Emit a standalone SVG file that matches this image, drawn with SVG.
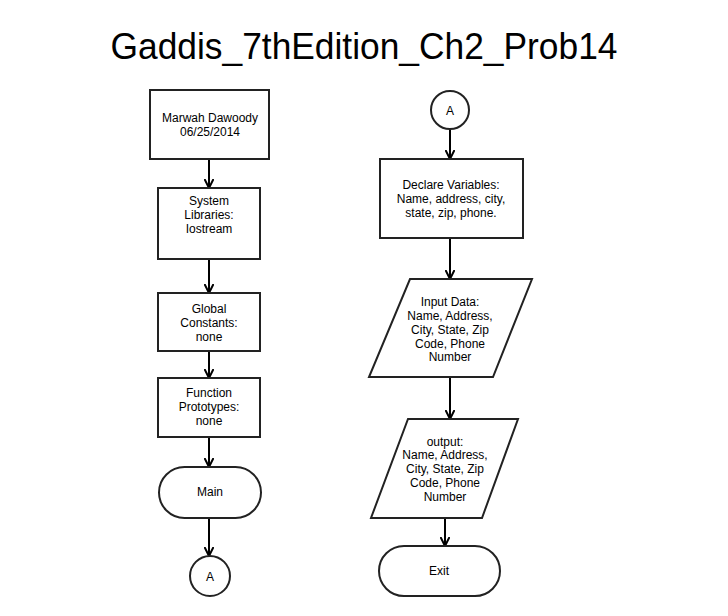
<svg xmlns="http://www.w3.org/2000/svg" width="728" height="616" viewBox="0 0 728 616">
  <style>
    .shape { fill: #ffffff; stroke: #222222; stroke-width: 2; }
    .lbl { font-family: "Liberation Sans", Arial, sans-serif; font-size: 12px; fill: #000000; text-anchor: middle; }
    .title { font-family: "Liberation Sans", Arial, sans-serif; font-size: 36px; fill: #000000; text-anchor: middle; }
    .conn { stroke: #000000; stroke-width: 2; fill: none; marker-end: url(#arrow); }
  </style>
  <defs>
    <marker id="arrow" viewBox="0 0 10 10" refX="9" refY="5" markerWidth="10" markerHeight="10" markerUnits="userSpaceOnUse" orient="auto">
      <path d="M0,0.5 L9,5 L0,9.5" fill="none" stroke="#000000" stroke-width="2"/>
    </marker>
  </defs>
  <rect width="728" height="616" fill="#ffffff"/>
  <text class="title" x="364" y="59" textLength="507" lengthAdjust="spacingAndGlyphs">Gaddis_7thEdition_Ch2_Prob14</text>

  <g id="connectors">
    <line class="conn" x1="209" y1="159" x2="209" y2="188"/>
    <line class="conn" x1="209" y1="259" x2="209" y2="293"/>
    <line class="conn" x1="209" y1="351" x2="209" y2="378"/>
    <line class="conn" x1="209" y1="437" x2="209" y2="467"/>
    <line class="conn" x1="209" y1="518" x2="209" y2="556"/>
    <line class="conn" x1="450" y1="129" x2="450" y2="159"/>
    <line class="conn" x1="450" y1="238" x2="450" y2="279"/>
    <line class="conn" x1="450" y1="377" x2="450" y2="419"/>
    <line class="conn" x1="445" y1="518" x2="445" y2="546"/>
  </g>

  <g id="author">
    <rect class="shape" x="150" y="90" width="119" height="69"/>
    <text class="lbl" x="210" y="122">Marwah Dawoody</text>
    <text class="lbl" x="210" y="136">06/25/2014</text>
  </g>
  <g id="libraries">
    <rect class="shape" x="158" y="188" width="102" height="71"/>
    <text class="lbl" x="209" y="205">System</text>
    <text class="lbl" x="209" y="219">Libraries:</text>
    <text class="lbl" x="209" y="233">Iostream</text>
  </g>
  <g id="constants">
    <rect class="shape" x="158" y="293" width="102" height="58"/>
    <text class="lbl" x="209" y="313">Global</text>
    <text class="lbl" x="209" y="327">Constants:</text>
    <text class="lbl" x="209" y="341">none</text>
  </g>
  <g id="prototypes">
    <rect class="shape" x="158" y="378" width="102" height="59"/>
    <text class="lbl" x="209" y="397">Function</text>
    <text class="lbl" x="209" y="411">Prototypes:</text>
    <text class="lbl" x="209" y="425">none</text>
  </g>
  <g id="main">
    <rect class="shape" x="159" y="467" width="102" height="51" rx="25.5" ry="25.5"/>
    <text class="lbl" x="210" y="496">Main</text>
  </g>
  <g id="connector-a-out">
    <circle class="shape" cx="210" cy="576" r="20"/>
    <text class="lbl" x="210" y="581">A</text>
  </g>

  <g id="connector-a-in">
    <circle class="shape" cx="450" cy="110" r="19"/>
    <text class="lbl" x="450" y="115">A</text>
  </g>
  <g id="declare">
    <rect class="shape" x="380" y="159" width="143" height="79"/>
    <text class="lbl" x="451" y="189">Declare Variables:</text>
    <text class="lbl" x="451" y="203">Name, address, city,</text>
    <text class="lbl" x="451" y="217">state, zip, phone.</text>
  </g>
  <g id="input">
    <polygon class="shape" points="410,279 532,279 493,377 369,377"/>
    <text class="lbl" x="450" y="306">Input Data:</text>
    <text class="lbl" x="450" y="320">Name, Address,</text>
    <text class="lbl" x="450" y="334">City, State, Zip</text>
    <text class="lbl" x="450" y="348">Code, Phone</text>
    <text class="lbl" x="450" y="361">Number</text>
  </g>
  <g id="output">
    <polygon class="shape" points="408,419 518,419 482,518 371,518"/>
    <text class="lbl" x="445" y="446">output:</text>
    <text class="lbl" x="445" y="459">Name, Address,</text>
    <text class="lbl" x="445" y="473">City, State, Zip</text>
    <text class="lbl" x="445" y="487">Code, Phone</text>
    <text class="lbl" x="445" y="501">Number</text>
  </g>
  <g id="exit">
    <rect class="shape" x="379" y="546" width="121" height="50" rx="25" ry="25"/>
    <text class="lbl" x="439" y="575">Exit</text>
  </g>
</svg>
